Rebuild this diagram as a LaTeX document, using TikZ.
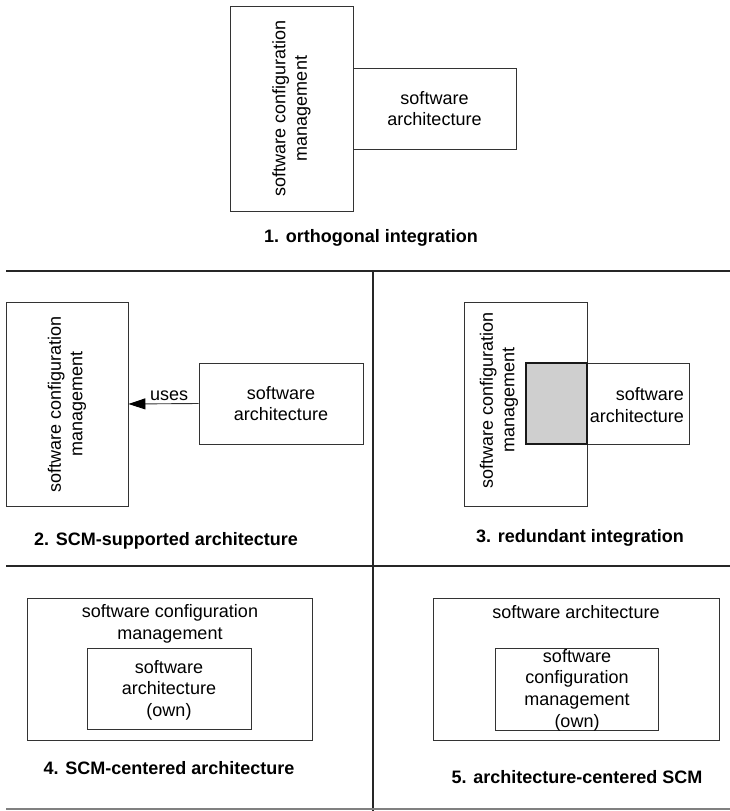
\documentclass[tikz,border=0pt]{standalone}
\usepackage{fontspec}
\setmainfont{Liberation Sans}
\usetikzlibrary{arrows.meta}
\begin{document}
\begin{tikzpicture}[x=1pt,y=-1pt,
  box/.style={draw=black!80,line width=0.9pt},
  lbl/.style={font=\fontsize{18}{21.6}\selectfont,align=center,inner sep=0pt},
  ttl/.style={font=\fontsize{18}{21.6}\selectfont\bfseries,inner sep=0pt},
  sep/.style={draw=black!85,line width=2pt},
  uses/.style={draw=black!80,line width=0.9pt,-{Triangle[length=17pt,width=11pt,fill=black,color=black]}}]
\useasboundingbox (0,0) rectangle (730,811);

% panel separators
\draw[sep] (6,271) -- (730,271);
\draw[sep] (6,566) -- (730,566);
\draw[sep] (373,271) -- (373,811);
\draw[draw=black!50,line width=2pt] (6,809) -- (730,809);

% 1. orthogonal integration
\draw[box] (230,6) rectangle (353,211);
\draw[box] (353,68) rectangle (516,149);
\node[lbl,rotate=90] (scm1) at (291.5,108.5) {software configuration\\management};
\node[lbl] (sa1) at (434.5,108.5) {software\\architecture};
\node[ttl] (t1) at (371,238) {1. orthogonal integration};

% 2. SCM-supported architecture
\node[box,minimum width=122pt,minimum height=204pt,inner sep=0pt] (scm2) at (67,404) {};
\node[lbl,rotate=90] at (scm2.center) {software configuration\\management};
\node[box,lbl,minimum width=164pt,minimum height=81pt] (sa2) at (281,403.5) {software\\architecture};
\draw[uses] (sa2.west) -- (scm2.east) node[pos=0.42,above=3pt,lbl] (u2) {uses};
\node[ttl] (t2) at (166,541) {2. SCM-supported architecture};

% 3. redundant integration
\draw[box] (464,302) rectangle (587,506);
\draw[box] (526,363) rectangle (689,444);
\draw[fill=black!19,draw=black!90,line width=1.4pt] (526,363) rectangle (587,444);
\node[lbl,rotate=90] (scm3) at (499,400) {software configuration\\management};
\node[lbl,align=right,anchor=east] (sa3) at (684,405) {software\\architecture};
\node[ttl] (t3) at (580,538) {3. redundant integration};

% 4. SCM-centered architecture
\draw[box] (27,598) rectangle (312,740);
\draw[box] (87,648) rectangle (251,729);
\node[lbl] (scm4) at (170,624) {software configuration\\management};
\node[lbl] (sa4) at (169,690) {software\\architecture\\(own)};
\node[ttl] (t4) at (169,768) {4. SCM-centered architecture};

% 5. architecture-centered SCM
\draw[box] (433,598) rectangle (719,740);
\draw[box] (495,648) rectangle (658,730);
\node[lbl] (sa5) at (576,612) {software architecture};
\node[lbl] (scm5) at (577,690) {software\\configuration\\management\\(own)};
\node[ttl] (t5) at (577,777) {5. architecture-centered SCM};
\end{tikzpicture}
\end{document}
